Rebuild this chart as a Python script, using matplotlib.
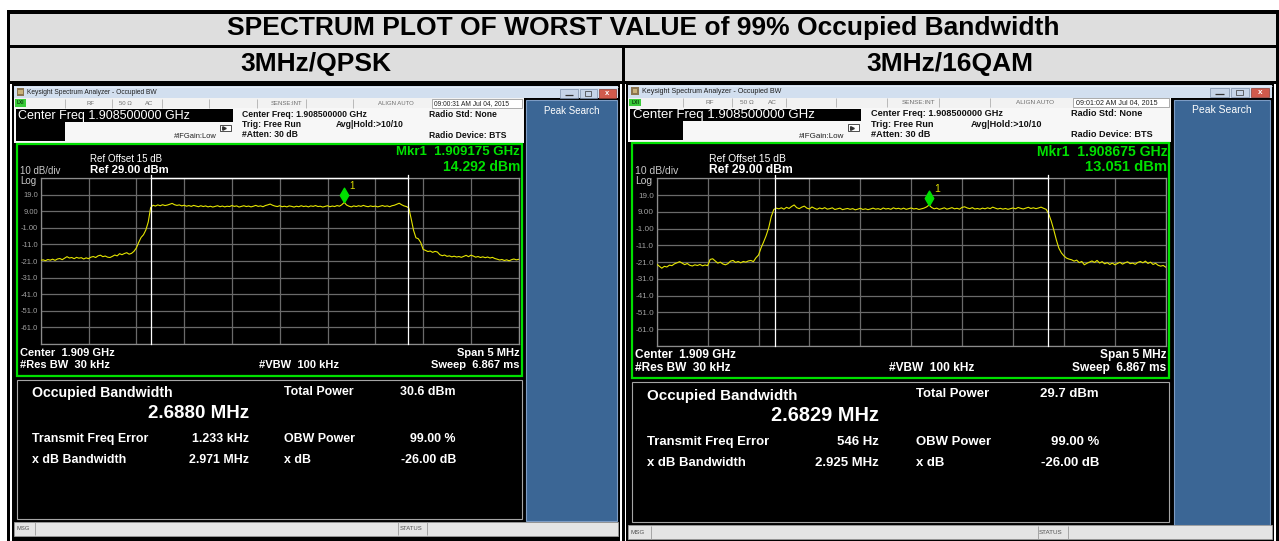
import numpy as np
import matplotlib
matplotlib.use("Agg")
import matplotlib.pyplot as plt
from matplotlib.patches import Rectangle

W, H = 1279, 541
plt.rcParams['font.family'] = ['Liberation Sans', 'DejaVu Sans']

# ---------------- data ----------------
TITLE = "SPECTRUM PLOT OF WORST VALUE of 99% Occupied Bandwidth"
SUBTITLES = ["3MHz/QPSK", "3MHz/16QAM"]

CENTER_MHZ = 1908.5
SPAN_MHZ = 5.0
REF_DBM = 29.0
DB_PER_DIV = 10.0
Y_LABELS = ["19.0", "9.00", "-1.00", "-11.0", "-21.0", "-31.0", "-41.0", "-51.0", "-61.0"]

qpsk_levels = [
    -20.6, -20.3, -20.8, -20.1, -20.5, -19.9, -20.6, -19.8, -19.5, -20.2,
    -19.3, -18.4, -19.2, -18.9, -19.6, -18.8, -19.3, -19.0, -19.8, -19.1,
    -19.6, -18.7, -18.3, -18.9, -17.9, -17.5, -18.4, -18.0, -18.7, -18.9,
    -18.2, -17.4, -17.9, -16.6, -17.2, -16.5, -16.0, -16.9, -16.4, -15.2,
    -13.2, -9.8, -6.8, -5.2, -2.3, 2.5, 11.2, 12.6,
    12.1, 12.8, 12.3, 12.9, 12.4, 12.7, 13.2, 13.7, 12.9, 12.5,
    12.8, 12.2, 12.6, 12.0, 12.4, 11.9, 12.5, 12.1, 11.7, 12.3,
    11.8, 12.2, 11.6, 12.0, 11.5, 11.9, 12.3, 11.7, 12.1, 11.6,
    12.0, 11.8, 12.4, 11.9, 12.2, 11.5, 11.9, 12.3, 11.8, 12.1,
    11.6, 12.0, 12.5, 11.9, 12.2, 11.7, 12.4, 12.8, 13.3, 12.6,
    12.1, 11.8, 12.3, 11.7, 12.0, 11.6, 12.2, 11.9, 11.5, 12.0,
    11.7, 12.3, 11.8, 12.1, 11.6, 12.2, 11.9, 12.4, 11.8, 12.0,
    11.5, 11.9, 12.3, 11.7, 12.1, 11.8, 12.4, 12.0, 12.9, 14.3,
    12.7, 12.0, 11.6, 12.2, 11.8, 12.3, 11.9, 12.5, 12.0, 11.7,
    12.2, 11.8, 12.1, 11.6, 12.0, 12.4, 11.9, 12.2, 11.7, 12.3,
    12.6, 13.2, 13.8, 12.9, 12.2, 11.8,
    11.0, 4.5, -2.5, -7.0, -7.6, -9.8, -14.0, -14.6, -15.3, -15.0, -15.8, -15.2, -15.6, -17.2, -17.8,
    -17.4, -18.2, -17.9, -18.5, -18.1, -18.6, -18.3, -18.8, -18.2, -17.6,
    -18.4, -17.5, -18.0, -18.7, -18.3, -18.9, -18.5, -19.0, -18.6, -19.2,
    -18.8, -19.5, -19.9, -20.4, -20.1, -20.7, -20.3, -20.9, -20.2, -19.8, -20.3, -20.0,
]

qam16_levels = [
    -22.2, -23.4, -24.6, -23.5, -23.9, -22.8, -23.1, -22.0, -21.4, -20.7,
    -21.6, -22.5, -21.8, -22.9, -23.3, -22.6, -23.0, -22.4, -23.2, -22.7,
    -23.1, -19.4, -19.0, -20.3, -21.6, -21.0, -22.1, -22.6, -21.9, -20.4,
    -20.0, -21.2, -20.6, -21.4, -20.6, -21.0, -20.3, -20.0, -20.7, -18.4,
    -16.8, -12.5, -9.0, -5.2, -0.5, 6.1, 10.4, 11.2,
    10.8, 11.4, 10.6, 11.7, 11.0, 12.2, 13.1, 11.5, 10.9, 11.8,
    12.4, 11.2, 10.7, 11.9, 11.1, 10.5, 11.3, 10.8, 11.5, 10.6,
    10.9, 11.4, 10.4, 10.8, 11.2, 10.3, 10.7, 11.0, 10.5, 10.9,
    10.2, 10.6, 11.1, 10.4, 10.8, 10.3, 10.7, 11.2, 10.6, 10.9,
    10.4, 11.3, 10.7, 11.0, 10.5, 11.4, 10.8, 11.1, 10.6, 11.2,
    10.5, 10.9, 11.3, 10.7, 11.0, 10.4, 10.8, 11.2, 11.9, 13.05,
    11.6, 10.8, 11.2, 10.5, 10.9, 11.4, 10.6, 11.0, 11.5, 10.8,
    11.1, 10.6, 11.7, 12.0, 11.3, 10.9, 11.5, 10.7, 11.0, 10.6,
    11.2, 10.8, 11.4, 10.9, 11.8, 11.2, 10.7, 11.1, 10.6, 11.0,
    10.5, 10.9, 11.3, 10.8, 11.6, 11.1, 10.7, 11.2, 11.7, 11.0,
    11.4, 10.9, 11.3, 11.8, 11.1,
    10.5, 7.8, 3.5, -1.8, -7.7, -12.7, -15.5, -17.3, -18.6, -19.2, -19.6, -20.4,
    -19.8, -21.3, -20.6, -22.6, -21.7, -21.0, -20.3, -21.2, -20.0, -21.5,
    -20.7, -22.0, -21.3, -22.4, -21.6, -22.6, -21.8, -21.1, -22.2, -21.4,
    -20.8, -21.9, -21.6, -22.3, -21.2, -20.6, -21.4, -20.4, -21.8, -21.0,
    -22.4, -21.7, -22.9, -23.4, -23.0, -24.0,
]

MARKER_FREQ_MHZ = [1909.175, 1908.675]
MARKER_DBM = [14.292, 13.051]
OBW_MHZ = [2.6880, 2.6829]
FREQ_ERR_KHZ = [1.233, 0.546]

MKR_LINE1 = ["Mkr1  1.909175 GHz", "Mkr1  1.908675 GHz"]
MKR_LINE2 = ["14.292 dBm", "13.051 dBm"]
TIMES = ["09:00:31 AM Jul 04, 2015", "09:01:02 AM Jul 04, 2015"]
OBW_TXT = ["2.6880 MHz", "2.6829 MHz"]
FREQ_ERR_TXT = ["1.233 kHz", "546 Hz"]
XDB_BW_TXT = ["2.971 MHz", "2.925 MHz"]
TOTAL_POWER_TXT = ["30.6 dBm", "29.7 dBm"]
OBW_POWER_TXT = "99.00 %"
XDB_TXT = "-26.00 dB"

# ---------------- figure ----------------
fig = plt.figure(figsize=(W / 100, H / 100), dpi=100)
bg = fig.add_axes([0, 0, 1, 1])
bg.set_xlim(0, W)
bg.set_ylim(H, 0)
bg.axis('off')


def rect(x0, y0, x1, y1, fc, ec='none', lw=0.0, z=1):
    bg.add_patch(Rectangle((x0, y0), x1 - x0, y1 - y0, facecolor=fc,
                           edgecolor=ec, linewidth=lw, zorder=z))


# table
rect(7, 10, 1279, 541, 'black', z=0)
rect(10, 13.5, 1276, 44.5, '#DEDEDE')
rect(10, 47.5, 621.5, 80.5, '#DEDEDE')
rect(625, 47.5, 1276, 80.5, '#DEDEDE')
rect(10, 83.5, 621.5, 541, 'white')
rect(625, 83.5, 1276, 541, 'white')
bg.text(643, 28.5, TITLE, fontsize=19, fontweight='bold', ha='center', va='center')
bg.text(316, 64, SUBTITLES[0], fontsize=19, fontweight='bold', ha='center', va='center')
bg.text(950, 64, SUBTITLES[1], fontsize=19, fontweight='bold', ha='center', va='center')


def draw_panel(i, levels, ox, sx, oy, sy):
    X = lambda x: ox + (x - 40.7) * sx
    Y = lambda y: oy + (y - 178.0) * sy
    f = sx

    def box(x0, y0, x1, y1, fc, ec='none', lw=0.0, z=1):
        rect(X(x0), Y(y0), X(x1), Y(y1), fc, ec, lw, z)

    def txt(x, y, s, size, color='black', weight='normal', ha='left', z=5):
        bg.text(X(x), Y(y), s, fontsize=size * f, color=color, fontweight=weight,
                ha=ha, va='center', zorder=z)

    def vl(x, y0, y1, color, lw=0.6, z=3):
        bg.plot([X(x), X(x)], [Y(y0), Y(y1)], color=color, lw=lw, zorder=z,
                solid_capstyle='butt')

    def hl(x0, x1, y, color, lw=0.6, z=3):
        bg.plot([X(x0), X(x1)], [Y(y), Y(y)], color=color, lw=lw, zorder=z,
                solid_capstyle='butt')

    # window frame
    box(12, 84, 620, 541, 'black')
    # title bar
    box(14, 86, 618, 98, '#D2DFEF')
    hl(14, 618, 86.5, '#E8EFF8', 0.6)
    box(16.5, 88, 24, 95.5, '#8A7550', z=2)
    box(18, 89.5, 22.5, 94, '#C9B27A', z=3)
    txt(27, 92, "Keysight Spectrum Analyzer - Occupied BW", 4.8, '#1E1E1E')
    box(560, 89, 578, 97.5, '#C6D4E8', ec='#7C8FAA', lw=0.5, z=2)
    box(579.5, 89, 597, 97.5, '#C6D4E8', ec='#7C8FAA', lw=0.5, z=2)
    box(598.5, 89, 616, 97.5, '#D05A4C', ec='#8C3A31', lw=0.5, z=2)
    hl(565, 573, 95, '#333333', 0.9, z=4)
    box(585, 90.8, 591, 95.5, 'none', ec='#333333', lw=0.5, z=4)
    txt(607.2, 93.2, 'x', 5.5, 'white', 'bold', ha='center')

    # status row
    box(14, 98, 524, 108.3, '#F2F2F2')
    box(15, 99, 26, 106.5, '#3ACB3A', z=2)
    txt(20.5, 102.8, 'LXI', 3.4, '#0A3A0A', 'bold', ha='center')
    for sxp in [65, 111.7, 161.7, 209, 256.7, 306, 353.3]:
        vl(sxp, 98.6, 107.8, '#B0B0B0', 0.6)
    box(431.7, 98.8, 522, 107.6, '#FFFFFF', ec='#8C8C8C', lw=0.5, z=2)
    for s, xx in [('RF', 90.7), ('50 \u03a9', 125.3), ('AC', 149.3),
                  ('SENSE:INT', 286.7), ('ALIGN AUTO', 395.5)]:
        txt(xx, 103.2, s, 4.3, '#6E6E6E', ha='center')
    txt(434.5, 103.2, TIMES[i], 4.8, '#202020')

    # header
    box(14, 108.3, 524, 142.5, '#F7F7F7')
    box(16, 109.3, 232.7, 121.7, 'black', z=2)
    txt(18, 115.6, 'Center Freq 1.908500000 GHz', 9, 'white')
    box(16, 121.7, 65, 140.5, 'black', z=2)
    txt(216.7, 136.7, '#IFGain:Low', 5.4, '#202020', ha='right')
    box(220, 124.5, 231, 131, 'white', ec='#303030', lw=0.6, z=2)
    bg.plot([X(224)], [Y(128)], marker='>', ms=2.5 * f, color='#303030', zorder=4)
    for s, yy in [('Center Freq: 1.908500000 GHz', 114.3), ('Trig: Free Run', 124.3),
                  ('#Atten: 30 dB', 134.3)]:
        txt(241.7, yy, s, 6.2, '#111111', 'bold')
    txt(336, 124.3, 'Avg|Hold:>10/10', 6.2, '#111111', 'bold')
    txt(429.3, 114.3, 'Radio Std: None', 6.2, '#111111', 'bold')
    txt(429.3, 135, 'Radio Device: BTS', 6.2, '#111111', 'bold')

    # peak search panel
    box(526, 100, 617, 521, '#3B6695', ec='#7D9CC4', lw=0.8, z=1)
    txt(571.5, 110.7, 'Peak Search', 7, 'white', ha='center')

    # graph frame
    box(17.3, 143.5, 521.7, 376, 'black', ec='#00E000', lw=1.6, z=2)
    txt(90, 159.3, 'Ref Offset 15 dB', 7, 'white')
    txt(90, 170, 'Ref 29.00 dBm', 8.2, 'white', 'bold')
    txt(20, 170.7, '10 dB/div', 7, '#C8C8C8')
    txt(20, 180.5, 'Log', 7, '#C8C8C8')
    txt(520, 152, MKR_LINE1[i], 9.5, '#00E000', 'bold', ha='right')
    txt(520, 167, MKR_LINE2[i], 10, '#00E000', 'bold', ha='right')
    txt(20, 353, 'Center  1.909 GHz', 8, 'white', 'bold')
    txt(20, 365.5, '#Res BW  30 kHz', 8, 'white', 'bold')
    txt(259, 365.5, '#VBW  100 kHz', 8, 'white', 'bold')
    txt(519.5, 353, 'Span 5 MHz', 8, 'white', 'bold', ha='right')
    txt(519.5, 365.5, 'Sweep  6.867 ms', 8, 'white', 'bold', ha='right')

    # spectrum axes
    x0p, x1p, y0p, y1p = X(40.7), X(518.7), Y(178.0), Y(344.0)
    ax = fig.add_axes([x0p / W, 1 - y1p / H, (x1p - x0p) / W, (y1p - y0p) / H])
    ax.set_facecolor('black')
    start, stop = CENTER_MHZ - SPAN_MHZ / 2, CENTER_MHZ + SPAN_MHZ / 2
    bottom = REF_DBM - 10 * DB_PER_DIV
    ax.set_xlim(start, stop)
    ax.set_ylim(bottom, REF_DBM)
    ax.set_xticks(np.linspace(start, stop, 11))
    ax.set_yticks(np.arange(bottom, REF_DBM + 0.1, DB_PER_DIV))
    ax.set_yticklabels([''] + Y_LABELS[::-1] + [''])
    ax.grid(True, color='#6A6A6A', lw=0.9)
    ax.set_axisbelow(True)
    ax.tick_params(length=0, labelbottom=False, labelsize=5.5 * f,
                   labelcolor='#A0A0A0', pad=2)
    for sp in ax.spines.values():
        sp.set_color('#8C8C8C')
        sp.set_linewidth(0.9)
    freqs = np.linspace(start, stop, len(levels))
    ax.plot(freqs, levels, color='#E5E500', lw=0.8, zorder=3)
    c = CENTER_MHZ + FREQ_ERR_KHZ[i] / 1000.0
    f1, f2 = c - OBW_MHZ[i] / 2, c + OBW_MHZ[i] / 2
    for fv in (f1, f2):
        ax.plot([fv, fv], [bottom, REF_DBM + 2], color='white', lw=0.9,
                clip_on=False, zorder=4)
    ax.plot([f1, f2], [REF_DBM, REF_DBM], color='white', lw=1.0, clip_on=False, zorder=4)
    dverts = [(0, -1), (0.58, 0), (0, 1), (-0.58, 0), (0, -1)]
    ax.plot([MARKER_FREQ_MHZ[i]], [MARKER_DBM[i]], linestyle='none', marker=dverts,
            ms=10.5 * sy, color='#00E000', zorder=5, clip_on=False,
            transform=ax.transData + matplotlib.transforms.ScaledTranslation(0, 7 * sy / 100, fig.dpi_scale_trans))
    ax.annotate('1', xy=(MARKER_FREQ_MHZ[i], MARKER_DBM[i]), xytext=(8 * sx, 16 * sy),
                textcoords='offset pixels', color='#E0E000', fontsize=7 * f,
                ha='center', va='center', zorder=6)

    # info box
    box(17.3, 379.5, 521.7, 518.5, 'black', ec='#A5A5A5', lw=0.8, z=2)
    txt(31.7, 393.3, 'Occupied Bandwidth', 10.2, 'white', 'bold')
    txt(249.3, 413.3, OBW_TXT[i], 13.5, 'white', 'bold', ha='right')
    txt(31.7, 439.3, 'Transmit Freq Error', 8.9, 'white', 'bold')
    txt(249.3, 439.3, FREQ_ERR_TXT[i], 8.9, 'white', 'bold', ha='right')
    txt(31.7, 459.6, 'x dB Bandwidth', 8.9, 'white', 'bold')
    txt(249.3, 459.6, XDB_BW_TXT[i], 8.9, 'white', 'bold', ha='right')
    txt(284, 391.7, 'Total Power', 8.9, 'white', 'bold')
    txt(456, 391.7, TOTAL_POWER_TXT[i], 8.9, 'white', 'bold', ha='right')
    txt(284, 439.3, 'OBW Power', 8.9, 'white', 'bold')
    txt(456, 439.3, OBW_POWER_TXT, 8.9, 'white', 'bold', ha='right')
    txt(284, 459.6, 'x dB', 8.9, 'white', 'bold')
    txt(456, 459.6, XDB_TXT, 8.9, 'white', 'bold', ha='right')

    # message bar
    box(14, 521.5, 618, 535.5, '#E4E4E4', ec='#9A9A9A', lw=0.6, z=2)
    for sxp in [35, 398.3, 426.7]:
        vl(sxp, 522, 535, '#9A9A9A', 0.6)
    txt(16.5, 528.5, 'MSG', 4.2, '#505050')
    txt(399.5, 528.5, 'STATUS', 4.2, '#505050')


draw_panel(0, qpsk_levels, 40.7, 1.0, 178.0, 1.0)
draw_panel(1, qam16_levels, 656.7, 1.065, 178.3, 1.01)

fig.savefig('out.png', dpi=100)
